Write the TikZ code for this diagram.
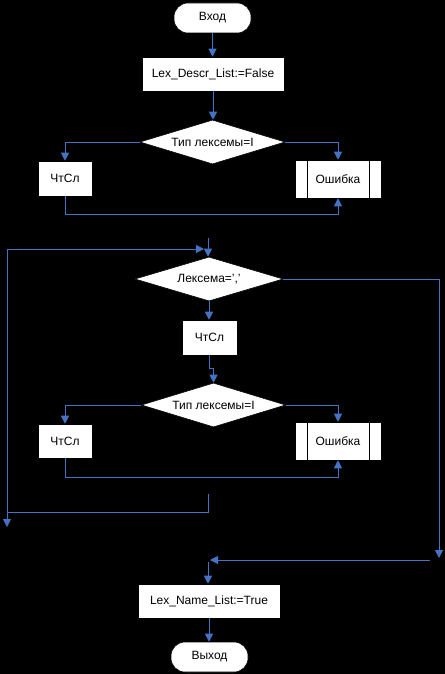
\documentclass[tikz,border=0pt]{standalone}
\usepackage{fontspec}
\setmainfont{Liberation Sans}
\usetikzlibrary{shapes.geometric,arrows.meta}
\definecolor{cblue}{RGB}{68,114,196}
\begin{document}
\begin{tikzpicture}[x=0.75pt,y=-0.75pt,
  font=\fontsize{9pt}{11pt}\selectfont,
  sz/.style 2 args={minimum width=#1*0.75pt,minimum height=#2*0.75pt},
  box/.style={draw=black,fill=white,inner sep=0pt,rectangle},
  term/.style={box,rounded corners=14*0.75pt},
  dec/.style={draw=black,fill=white,diamond,inner sep=0pt,aspect=3.3},
  proc/.style={box,path picture={
      \draw[black,line width=0.75pt] ([xshift=12*0.75pt]path picture bounding box.north west) -- ([xshift=12*0.75pt]path picture bounding box.south west);
      \draw[black,line width=0.75pt] ([xshift=-12*0.75pt]path picture bounding box.north east) -- ([xshift=-12*0.75pt]path picture bounding box.south east);}},
  ln/.style={draw=cblue,line width=0.75pt},
  arr/.style={ln,-{Triangle[length=6pt,width=6pt]}}]
\fill[black] (0,0) rectangle (445,674);
\useasboundingbox (0,0) rectangle (445,674);

% nodes
\node[term,sz={77}{30}] (start) at (212.5,18) {Вход};
\node[box,sz={142}{34}] (p1) at (213,74) {Lex\_Descr\_List:=False};
\node[dec,sz={145}{44}] (d1) at (212.5,142) {Тип лексемы=I};
\node[box,sz={54}{35}] (r1) at (65,178.5) {ЧтСл};
\node[proc,sz={86}{38}] (e1) at (338,179) {Ошибка};

\node[dec,sz={148}{44}] (d2) at (209,279) {Лексема=','};
\node[box,sz={55}{35}] (r2) at (209.5,337.5) {ЧтСл};
\node[dec,sz={144}{44}] (d3) at (213.5,405) {Тип лексемы=I};
\node[box,sz={54}{34}] (r3) at (65,441) {ЧтСл};
\node[proc,sz={86}{38}] (e2) at (338,441) {Ошибка};

\node[box,sz={142}{34}] (p2) at (209,601) {Lex\_Name\_List:=True};
\node[term,sz={77}{30}] (end) at (209.5,657) {Выход};

% free ends
\coordinate (t0) at (208,238);
\coordinate (l5) at (7,249);
\coordinate (l6) at (204,249);
\coordinate (l4) at (7,527);
\coordinate (l1) at (208,494);
\coordinate (l3) at (7,512);
\coordinate (rr) at (439,558);
\coordinate (m1) at (430,560);
\coordinate (m2) at (210,560);
\coordinate (m3) at (208,562);

% connectors
\draw[arr] (start.south) -- (start.south |- p1.north);
\draw[arr] (p1.south) -- (p1.south |- d1.north);
\draw[arr] (d1.west) -| (r1.north);
\draw[arr] (d1.east) -| (e1.north);
\draw[arr] (r1.south) -- ++(0,18) -| (e1.south);

\draw[arr] (t0) -- (t0 |- d2.north);
\draw[arr] (d2.south) -- (d2.south |- r2.north);
\draw[arr] (r2.south) -- ++(0,13) -| (d3.north);
\draw[arr] (d3.west) -| (r3.north);
\draw[arr] (d3.east) -| (e2.north);
\draw[arr] (r3.south) -- ++(0,19) -| (e2.south);

\draw[arr] (l5) -- (l6);
\draw[arr] (l5) -- (l4);
\draw[ln] (l1) |- (l3);

\draw[arr] (d2.east) -| (rr);
\draw[arr] (m1) -- (m2);
\draw[arr] (m3) -- (m3 |- p2.north);
\draw[arr] (p2.south) -- (p2.south |- end.north);
\end{tikzpicture}
\end{document}
